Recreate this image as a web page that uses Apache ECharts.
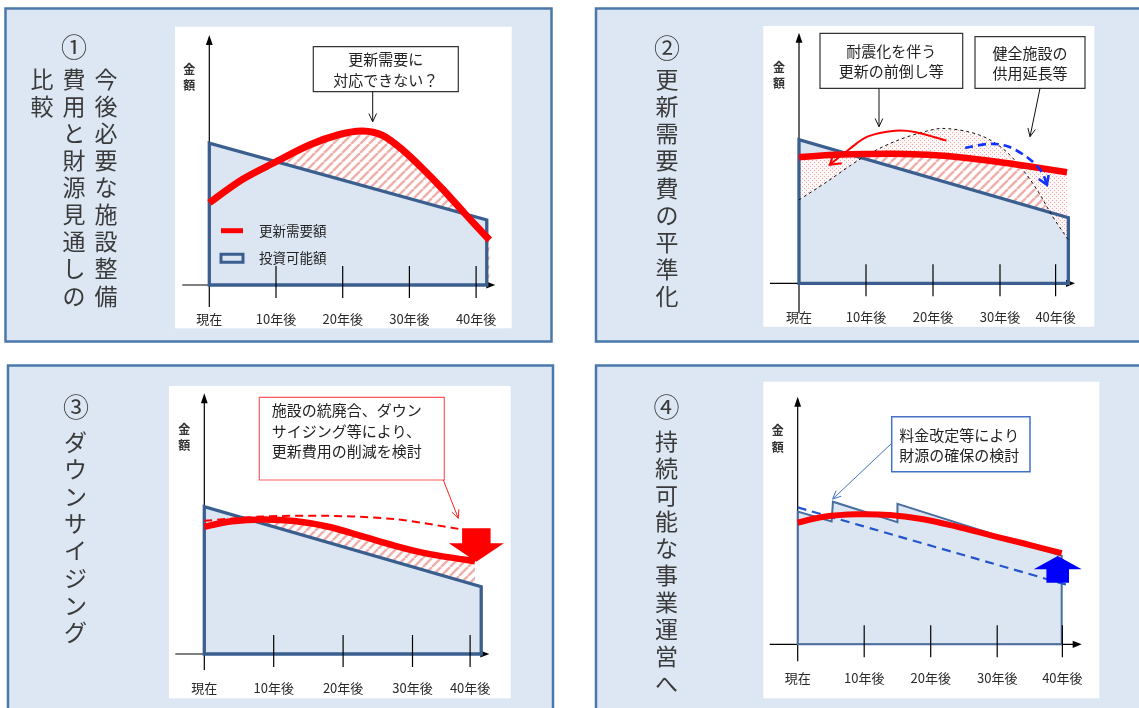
<!DOCTYPE html>
<html lang="ja">
<head>
<meta charset="utf-8">
<title>施設整備費用と財源の見通し</title>
<script src="https://cdn.jsdelivr.net/npm/echarts@6/dist/echarts.min.js"></script>
<style>
html,body{margin:0;padding:0;background:#ffffff;}
#chart{width:1139px;height:708px;}
</style>
</head>
<body>
<div id="chart"></div>
<script>
// ---------- data (x: years from now, y: amount index, axis top = 100) ----------
const tickLabels = ['現在', '10年後', '20年後', '30年後', '40年後'];
const tickYears1 = [0, 10, 20, 30, 40];
const tickYears2 = [0, 10, 20, 30, 38.3];
const tickYears3 = [0, 10, 20, 30, 38.3];
const tickYears4 = [0, 10, 20, 30, 39.8];

// ① 今後必要な施設整備費用と財源見通しの比較
const renewal1 = [[0,32.9],[5,42.3],[10,49.3],[15,56.0],[19.5,60.2],[23,61.6],[26,59.8],[29,54.0],[32,46.5],[35,38.3],[38.3,28.6],[42,18]];
const budget1 = [[0,0],[0,56.7],[41.6,26],[41.6,0]];

// ② 更新需要費の平準化
const renewalBefore2 = [[0,33.3],[4.1,40.4],[9.4,50],[14.3,56.6],[19.3,60.9],[22.3,61.7],[26.8,59.3],[30.3,54],[33.2,46],[35.7,36.6],[37.7,27.3],[40.2,17.3]];
const renewal2 = [[0,50.3],[4.5,51.2],[9.4,51.6],[14.3,51.7],[19.3,51.3],[24.3,50.2],[29.3,48.6],[34.5,46.6],[40,44.3]];
const budget2 = [[0,0],[0,57.3],[40.2,26.2],[40.2,0]];
const advance2 = [[22.0,56.9],[17.3,60.4],[14.3,60.9],[10.3,58.6],[7.4,53.3],[4.6,47.3]];
const extend2 = [[24.8,54],[28.3,55.6],[31.2,54.6],[34.2,50],[36.2,44.6],[37.0,39.3]];

// ③ ダウンサイジング
const renewalBefore3 = [[0,51.1],[8.3,52.7],[17.9,53],[27.5,51.7],[36.6,48]];
const renewal3 = [[0,48.8],[4,50.9],[8.5,51.6],[13,51.0],[17.9,48.8],[22.7,45.2],[27.5,41.5],[32.3,38.4],[39,35.6]];
const budget3 = [[0,0],[0,56.5],[39.9,25.8],[39.9,0]];
const reduction3 = [39.2, 48.2, 35.4];   // x, from, to

// ④ 持続可能な事業運営へ
const budget4 = [[0,0],[0,53.6],[5.1,49.6],[5.3,57.6],[15,49.3],[15,56.7],[39.7,35.7],[39.7,0]];
const budgetBefore4 = [[0,55.3],[40.9,23.7]];
const renewal4 = [[0,49.1],[3.9,51.5],[8.9,52.5],[13.9,52.2],[18.9,50.5],[23.9,47.5],[28.9,44.1],[33.9,40.8],[39.7,36.8]];
const increase4 = [39.1, 24.9, 35.7];    // x, from, to

// ---------- styles ----------
const FONT = '"Noto Sans CJK JP","Noto Sans CJK SC","Noto Sans",sans-serif';
const RED = '#ff0000';
const NAVY = '#3a5f8f';
const FILL = '#dce6f2';
const PANEL = '#dde7f3';
const FRAME = '#4a78aa';
const INK = '#222222';

const gridBoxes = [
  { left: 209.3, top: 35,    width: 266.8, height: 250 },
  { left: 799,   top: 32.7,  width: 268,   height: 250.6 },
  { left: 204.3, top: 393.3, width: 277.6, height: 260.7 },
  { left: 797.7, top: 396.7, width: 266,   height: 247.6 }
];
// pixel extents of the drawn axes beyond the plotting frame
const axisExtent = [
  { left: 27, below: 22, tip: 286 },
  { left: 29, below: 30, tip: 276 },
  { left: 29, below: 16, tip: 285 },
  { left: 28, below: 17, tip: 284 }
];

function makeHatch() {
  const s = 9, c = document.createElement('canvas');
  c.width = c.height = s;
  const g = c.getContext('2d');
  g.fillStyle = '#ffffff'; g.fillRect(0, 0, s, s);
  g.strokeStyle = '#efb0ac'; g.lineWidth = 2.5;
  g.beginPath();
  for (const k of [-1, 0, 1]) { g.moveTo(k * s, s); g.lineTo(k * s + s, 0); }
  g.stroke();
  return c;
}
function makeDots() {
  const s = 4, c = document.createElement('canvas');
  c.width = c.height = s;
  const g = c.getContext('2d');
  g.fillStyle = '#fff8f8'; g.fillRect(0, 0, s, s);
  g.fillStyle = '#f2a4a4';
  g.fillRect(0, 0, 1, 1); g.fillRect(2, 2, 1, 1);
  return c;
}
const HATCH = { image: makeHatch(), repeat: 'repeat' };
const DOTS = { image: makeDots(), repeat: 'repeat' };

// ---------- path helpers ----------
function px(api, arr) { return arr.map(p => api.coord(p)); }
function bez(P) {
  let d = '';
  for (let i = 0; i < P.length - 1; i++) {
    const p0 = P[i - 1] || P[i], p1 = P[i], p2 = P[i + 1], p3 = P[i + 2] || P[i + 1];
    const c1 = [p1[0] + (p2[0] - p0[0]) / 6, p1[1] + (p2[1] - p0[1]) / 6];
    const c2 = [p2[0] - (p3[0] - p1[0]) / 6, p2[1] - (p3[1] - p1[1]) / 6];
    d += 'C' + c1[0] + ',' + c1[1] + ' ' + c2[0] + ',' + c2[1] + ' ' + p2[0] + ',' + p2[1];
  }
  return d;
}
function curveD(P) { return 'M' + P[0][0] + ',' + P[0][1] + bez(P); }
function underD(P, base) {
  const n = P.length - 1;
  return curveD(P) + 'L' + P[n][0] + ',' + base + 'L' + P[0][0] + ',' + base + 'Z';
}
function bandD(A, B) {
  const R = B.slice().reverse();
  return curveD(A) + 'L' + R[0][0] + ',' + R[0][1] + bez(R) + 'Z';
}
function vHead(tip, from, len, deg) {
  const a = Math.atan2(from[1] - tip[1], from[0] - tip[0]), r = deg * Math.PI / 180;
  return [[tip[0] + len * Math.cos(a + r), tip[1] + len * Math.sin(a + r)], tip,
          [tip[0] + len * Math.cos(a - r), tip[1] + len * Math.sin(a - r)]];
}
function blockArrow(api, spec, shaftW, headW, headL) {
  const a = api.coord([spec[0], spec[1]]), b = api.coord([spec[0], spec[2]]);
  const dir = b[1] > a[1] ? 1 : -1, hb = b[1] - dir * headL, x = a[0];
  return [[x - shaftW / 2, a[1]], [x + shaftW / 2, a[1]], [x + shaftW / 2, hb], [x + headW / 2, hb],
          [x, b[1]], [x - headW / 2, hb], [x - shaftW / 2, hb]];
}
function txt(text, x, y, size, opt) {
  opt = opt || {};
  const align = opt.align || 'center', va = opt.va || 'middle';
  return {
    type: 'text', x: x, y: y, z: opt.z, silent: true,
    style: {
      text: text, font: (opt.weight || 'normal') + ' ' + size + 'px ' + FONT, fill: opt.color || INK,
      align: align, verticalAlign: va, textAlign: align, textVerticalAlign: va,
      lineHeight: opt.lh, textLineHeight: opt.lh
    }
  };
}

// ---------- series layers ----------
function layer(i, z, draw, name) {
  const s = {
    type: 'custom', xAxisIndex: i, yAxisIndex: i, z: z, silent: true, animation: false,
    data: [[0, 0]],
    renderItem: (params, api) => ({ type: 'group', children: draw(api) })
  };
  if (name) s.name = name;
  return s;
}
function axesLayer(i) {
  const e = axisExtent[i];
  return layer(i, 5, api => {
    const o = api.coord([0, 0]), t = api.coord([0, 100]), xe = o[0] + e.tip, lab = api.coord([0, 83]);
    return [
      { type: 'line', shape: { x1: o[0] - e.left, y1: o[1], x2: xe - 8, y2: o[1] }, style: { stroke: '#000', lineWidth: 1.2 } },
      { type: 'polygon', shape: { points: [[xe, o[1]], [xe - 9, o[1] - 3.6], [xe - 9, o[1] + 3.6]] }, style: { fill: '#000' } },
      { type: 'line', shape: { x1: o[0], y1: o[1] + e.below, x2: o[0], y2: t[1] + 8 }, style: { stroke: '#000', lineWidth: 1.2 } },
      { type: 'polygon', shape: { points: [[o[0], t[1]], [o[0] - 3.4, t[1] + 10], [o[0] + 3.4, t[1] + 10]] }, style: { fill: '#000' } },
      txt('金\n額', o[0] - 20, lab[1], 12, { lh: 16.5, weight: 'bold', color: '#333' })
    ];
  });
}
function ticksLayer(i, at) {
  return layer(i, 7, api => {
    const out = [];
    at.forEach((v, k) => {
      const p = api.coord([v, 0]);
      if (k > 0) out.push({ type: 'line', shape: { x1: p[0], y1: p[1] - 19, x2: p[0], y2: p[1] + 13 }, style: { stroke: '#000', lineWidth: 1.2 } });
      out.push(txt(tickLabels[k], p[0], p[1] + 34, 13, { color: '#2a2a2a' }));
    });
    return out;
  });
}
function underLayer(i, z, data, fill) {
  return layer(i, z, api => {
    const base = api.coord([0, 0])[1];
    return [{ type: 'path', shape: { pathData: underD(px(api, data), base) }, style: { fill: fill, stroke: null } }];
  });
}
function polyFill(i, z, data, name) {
  return layer(i, z, api => [{ type: 'polygon', shape: { points: px(api, data) }, style: { fill: FILL, stroke: null } }], name);
}
function polyEdge(i, z, data, w, color) {
  return layer(i, z, api => [{ type: 'polygon', shape: { points: px(api, data) }, style: { fill: 'none', stroke: color || NAVY, lineWidth: w, lineJoin: 'miter' } }]);
}
function curveLayer(i, z, data, style, name) {
  return layer(i, z, api => [{ type: 'path', shape: { pathData: curveD(px(api, data)) },
    style: Object.assign({ fill: 'none', lineJoin: 'round' }, style) }], name);
}
function curvedArrow(i, z, data, style, headLen) {
  return layer(i, z, api => {
    const P = px(api, data), n = P.length - 1;
    return [
      { type: 'path', shape: { pathData: curveD(P) }, style: Object.assign({ fill: 'none' }, style) },
      { type: 'polyline', shape: { points: vHead(P[n], P[n - 1], headLen, 32) },
        style: { fill: 'none', stroke: style.stroke, lineWidth: style.lineWidth } }
    ];
  });
}

const series = [
  // ①
  underLayer(0, 2, renewal1, HATCH),
  polyFill(0, 3, budget1, '投資可能額'),
  axesLayer(0),
  polyEdge(0, 6, budget1, 3.3),
  ticksLayer(0, tickYears1),
  curveLayer(0, 9, renewal1, { stroke: RED, lineWidth: 7 }, '更新需要額'),

  // ②
  underLayer(1, 2, renewal2, HATCH),
  polyFill(1, 3, budget2),
  layer(1, 4, api => [{ type: 'path', shape: { pathData: bandD(px(api, renewalBefore2), px(api, renewal2)) },
    style: { fill: DOTS, stroke: null } }]),
  axesLayer(1),
  polyEdge(1, 6, budget2, 3.3),
  ticksLayer(1, tickYears2),
  curveLayer(1, 8, renewalBefore2, { stroke: '#111', lineWidth: 1, lineDash: [3, 3] }),
  curveLayer(1, 9, renewal2, { stroke: RED, lineWidth: 6.5 }),
  curvedArrow(1, 10, advance2, { stroke: RED, lineWidth: 2 }, 12),
  curvedArrow(1, 10, extend2, { stroke: '#1133ff', lineWidth: 2.6, lineDash: [8, 5] }, 10),

  // ③
  underLayer(2, 2, renewal3, HATCH),
  polyFill(2, 3, budget3),
  axesLayer(2),
  polyEdge(2, 6, budget3, 3.3),
  ticksLayer(2, tickYears3),
  curveLayer(2, 8, renewalBefore3, { stroke: RED, lineWidth: 2, lineDash: [8, 5] }),
  curveLayer(2, 9, renewal3, { stroke: RED, lineWidth: 6.5 }),
  layer(2, 10, api => [{ type: 'polygon', shape: { points: blockArrow(api, reduction3, 28.5, 55, 18.4) }, style: { fill: RED } }]),

  // ④
  polyFill(3, 3, budget4),
  axesLayer(3),
  polyEdge(3, 6, budget4, 2, '#4a6f9e'),
  ticksLayer(3, tickYears4),
  curveLayer(3, 8, budgetBefore4, { stroke: '#2255cc', lineWidth: 2.2, lineDash: [9, 6] }),
  layer(3, 9, api => [{ type: 'polygon', shape: { points: blockArrow(api, increase4, 22.6, 48, 13.3) }, style: { fill: '#0000ff' } }]),
  curveLayer(3, 10, renewal4, { stroke: RED, lineWidth: 6 })
];

// ---------- page furniture: panels, titles, call-outs ----------
function vtext(str, x, firstCenter, pitch, size) {
  return txt(str.split('').join('\n'), x, firstCenter - pitch / 2, size, { va: 'top', lh: pitch, color: '#3a3a3a', z: 1 });
}
function box(x, y, w, h, stroke, lw) {
  return { type: 'rect', z: 30, silent: true, shape: { x: x, y: y, width: w, height: h },
           style: { fill: '#ffffff', stroke: stroke, lineWidth: lw } };
}
function pointer(x1, y1, x2, y2, color, w) {
  return [
    { type: 'line', z: 30, silent: true, shape: { x1: x1, y1: y1, x2: x2, y2: y2 }, style: { stroke: color, lineWidth: w } },
    { type: 'polyline', z: 30, silent: true, shape: { points: vHead([x2, y2], [x1, y1], 9, 25) }, style: { fill: 'none', stroke: color, lineWidth: w } }
  ];
}

const graphics = [
  // panel frames
  { type: 'rect', z: 0, silent: true, shape: { x: 5.5, y: 8.5, width: 546, height: 333 }, style: { fill: PANEL, stroke: FRAME, lineWidth: 2.5 } },
  { type: 'rect', z: 0, silent: true, shape: { x: 596, y: 8.5, width: 560, height: 333 }, style: { fill: PANEL, stroke: FRAME, lineWidth: 2.5 } },
  { type: 'rect', z: 0, silent: true, shape: { x: 8, y: 365.5, width: 545, height: 360 }, style: { fill: PANEL, stroke: FRAME, lineWidth: 2.5 } },
  { type: 'rect', z: 0, silent: true, shape: { x: 596, y: 365.5, width: 560, height: 360 }, style: { fill: PANEL, stroke: FRAME, lineWidth: 2.5 } },
  // plotting areas
  { type: 'rect', z: 1, silent: true, shape: { x: 175, y: 26.7, width: 336.7, height: 301.6 }, style: { fill: '#ffffff' } },
  { type: 'rect', z: 1, silent: true, shape: { x: 763.3, y: 26, width: 331, height: 300.7 }, style: { fill: '#ffffff' } },
  { type: 'rect', z: 1, silent: true, shape: { x: 169, y: 386, width: 341.7, height: 312.3 }, style: { fill: '#ffffff' } },
  { type: 'rect', z: 1, silent: true, shape: { x: 763.3, y: 381.7, width: 336, height: 316.6 }, style: { fill: '#ffffff' } },

  // vertical titles
  txt('①', 74, 47, 26, { color: '#3a3a3a', z: 1 }),
  vtext('今後必要な施設整備', 106, 79, 27.1, 23),
  vtext('費用と財源見通しの', 74, 79, 27.1, 23),
  vtext('比較', 42, 79, 27.1, 23),
  txt('②', 667, 48, 26, { color: '#3a3a3a', z: 1 }),
  vtext('更新需要費の平準化', 667, 79, 27.2, 23),
  txt('③', 76, 406.7, 26, { color: '#3a3a3a', z: 1 }),
  vtext('ダウンサイジング', 75.5, 442.3, 27.1, 23),
  txt('④', 666.5, 406.7, 26, { color: '#3a3a3a', z: 1 }),
  vtext('持続可能な事業運営へ', 666.5, 441, 26.9, 23),

  // call-outs
  box(313.3, 46.7, 145, 45, '#333333', 1.2),
  txt('更新需要に\n対応できない？', 385.8, 69.7, 15, { lh: 20.7, z: 31 }),
  ...pointer(372.7, 91.7, 372.7, 121.7, '#111', 1),

  box(820, 33.3, 142.7, 55, '#333333', 1.2),
  txt('耐震化を伴う\n更新の前倒し等', 891.3, 61.7, 15, { lh: 20, z: 31 }),
  ...pointer(879, 88.3, 879, 126.7, '#111', 1),
  box(975, 36.7, 110, 51.6, '#333333', 1.2),
  txt('健全施設の\n供用延長等', 1030, 63.3, 15, { lh: 20, z: 31 }),
  ...pointer(1040, 88.3, 1030, 136.7, '#111', 1),

  box(259.3, 397.3, 185, 82.7, '#ff5a5a', 1.2),
  txt('施設の統廃合、ダウン\nサイジング等により、\n更新費用の削減を検討', 271.7, 399.6, 15, { align: 'left', va: 'top', lh: 20.8, z: 31 }),
  ...pointer(443.3, 480, 458.3, 518.3, '#ff2020', 1),

  box(891.7, 416.7, 138.3, 55, '#4472c4', 1.5),
  txt('料金改定等により\n財源の確保の検討', 899.3, 445, 15, { align: 'left', lh: 20, z: 31 }),
  ...pointer(891.7, 443.3, 832.7, 499, '#4472c4', 1)
];

const chart = echarts.init(document.getElementById('chart'), null, { renderer: 'canvas', width: 1139, height: 708 });
chart.setOption({
  animation: false,
  backgroundColor: '#ffffff',
  grid: gridBoxes.map(g => Object.assign({ containLabel: false }, g)),
  xAxis: gridBoxes.map((g, i) => ({ type: 'value', gridIndex: i, min: 0, max: 40, show: false })),
  yAxis: gridBoxes.map((g, i) => ({ type: 'value', gridIndex: i, min: 0, max: 100, show: false })),
  legend: [{
    orient: 'vertical', left: 219.5, top: 222.7, padding: 0, itemGap: 11.6,
    itemWidth: 22, itemHeight: 8, selectedMode: false, z: 30,
    textStyle: { fontFamily: FONT, fontSize: 13.5, color: INK, lineHeight: 16, padding: [0, 0, 0, 11] },
    data: [
      { name: '更新需要額', icon: 'path://M0,0H22V5H0Z', itemStyle: { color: RED, borderWidth: 0 } },
      { name: '投資可能額', icon: 'rect', itemStyle: { color: FILL, borderColor: NAVY, borderWidth: 3 } }
    ]
  }],
  graphic: { elements: graphics },
  series: series
});
</script>
</body>
</html>
